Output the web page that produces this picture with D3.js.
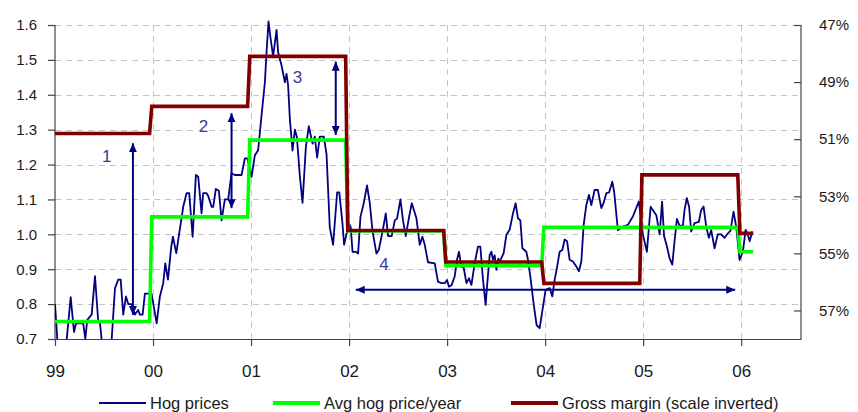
<!DOCTYPE html>
<html>
<head>
<meta charset="utf-8">
<script src="https://cdn.jsdelivr.net/npm/d3@7"></script>
<style>
  body { margin: 0; background: #fff; }
  svg text { font-family: "Liberation Sans Narrow", "Arial Narrow", "Liberation Sans", Arial, sans-serif; }
  .num text { font-family: "Liberation Sans", Arial, sans-serif; }
</style>
</head>
<body>
<svg id="chart" width="858" height="412"></svg>
<script>
// ---- data ----
const years = [1999, 2000, 2001, 2002, 2003, 2004, 2005, 2006];
const yearLabels = ["99", "00", "01", "02", "03", "04", "05", "06"];
const avgHogPrice = [0.75, 1.05, 1.27, 1.01, 0.91, 1.02, 1.02, 0.95];
const grossMargin = [50.8, 49.85, 48.1, 54.2, 55.3, 56.05, 52.25, 54.3]; // %, plotted on inverted right axis
const seriesEnd = 2006.123;
const leftTicks = [0.7, 0.8, 0.9, 1.0, 1.1, 1.2, 1.3, 1.4, 1.5, 1.6];
const rightTicks = [47, 49, 51, 53, 55, 57];
const seriesNames = ["Hog prices", "Avg hog price/year", "Gross margin (scale inverted)"];

const hogDates = [
  1999.000, 1999.040, 1999.100, 1999.160, 1999.194, 1999.214, 1999.255, 1999.288, 1999.309, 1999.329,
  1999.374, 1999.408, 1999.441, 1999.459, 1999.500, 1999.560, 1999.612, 1999.645, 1999.670, 1999.696,
  1999.724, 1999.747, 1999.782, 1999.815, 1999.849, 1999.866, 1999.894, 1999.917, 1999.958, 1999.985,
  2000.037, 2000.070, 2000.104, 2000.125, 2000.152, 2000.186, 2000.203, 2000.237, 2000.308, 2000.342,
  2000.369, 2000.404, 2000.437, 2000.461, 2000.495, 2000.512, 2000.546, 2000.563, 2000.597, 2000.614,
  2000.641, 2000.672, 2000.699, 2000.733, 2000.767, 2000.801, 2000.835, 2000.903, 2000.937, 2000.962,
  2001.005, 2001.039, 2001.072, 2001.107, 2001.141, 2001.158, 2001.178, 2001.199, 2001.225, 2001.260,
  2001.276, 2001.311, 2001.345, 2001.362, 2001.378, 2001.396, 2001.423, 2001.447, 2001.467, 2001.497,
  2001.525, 2001.559, 2001.589, 2001.627, 2001.650, 2001.674, 2001.701, 2001.742, 2001.770, 2001.803,
  2001.837, 2001.878, 2001.900, 2001.933, 2001.949, 2001.973, 2002.000, 2002.017, 2002.035, 2002.068,
  2002.092, 2002.116, 2002.150, 2002.183, 2002.211, 2002.239, 2002.279, 2002.303, 2002.347, 2002.374,
  2002.398, 2002.435, 2002.466, 2002.489, 2002.524, 2002.550, 2002.578, 2002.612, 2002.640, 2002.687,
  2002.721, 2002.748, 2002.772, 2002.805, 2002.874, 2002.907, 2002.942, 2002.976, 2002.999, 2003.019,
  2003.047, 2003.077, 2003.101, 2003.121, 2003.146, 2003.169, 2003.197, 2003.223, 2003.248, 2003.281,
  2003.315, 2003.339, 2003.366, 2003.393, 2003.407, 2003.434, 2003.452, 2003.468, 2003.485, 2003.503,
  2003.521, 2003.536, 2003.577, 2003.604, 2003.638, 2003.672, 2003.699, 2003.723, 2003.747, 2003.768,
  2003.808, 2003.825, 2003.849, 2003.883, 2003.913, 2003.944, 2003.978, 2004.005, 2004.046, 2004.073,
  2004.097, 2004.114, 2004.148, 2004.175, 2004.199, 2004.224, 2004.250, 2004.283, 2004.318, 2004.345,
  2004.369, 2004.393, 2004.420, 2004.447, 2004.471, 2004.505, 2004.538, 2004.573, 2004.596, 2004.624,
  2004.652, 2004.685, 2004.704, 2004.742, 2004.793, 2004.844, 2004.895, 2004.936, 2004.956, 2004.997,
  2005.038, 2005.076, 2005.134, 2005.168, 2005.193, 2005.213, 2005.242, 2005.269, 2005.297, 2005.320,
  2005.344, 2005.371, 2005.405, 2005.422, 2005.445, 2005.468, 2005.490, 2005.524, 2005.568, 2005.592,
  2005.616, 2005.643, 2005.670, 2005.694, 2005.728, 2005.761, 2005.796, 2005.830, 2005.864, 2005.890,
  2005.922, 2005.949, 2005.983, 2006.017, 2006.045, 2006.068, 2006.086, 2006.113
];
const hogPrices = [
  0.80, 0.63, 0.64, 0.82, 0.72, 0.745, 0.745, 0.745, 0.70, 0.755,
  0.77, 0.88, 0.75, 0.745, 0.63, 0.62, 0.846, 0.87, 0.87, 0.77,
  0.822, 0.80, 0.80, 0.77, 0.783, 0.77, 0.77, 0.83, 0.83, 0.83,
  0.745, 0.822, 0.86, 0.917, 0.87, 0.965, 0.993, 0.946, 1.079, 1.118,
  1.118, 0.993, 1.17, 1.165, 1.06, 1.118, 1.118, 1.11, 1.079, 1.079,
  1.13, 1.125, 1.04, 1.10, 1.10, 1.175, 1.17, 1.17, 1.218, 1.218,
  1.165, 1.227, 1.241, 1.341, 1.436, 1.522, 1.61, 1.562, 1.51, 1.586,
  1.522, 1.484, 1.436, 1.46, 1.427, 1.33, 1.24, 1.30, 1.28, 1.17,
  1.09, 1.25, 1.31, 1.26, 1.28, 1.22, 1.28, 1.28, 1.23, 1.02,
  0.97, 1.12, 1.12, 1.03, 0.97, 1.00, 1.03, 1.02, 0.95, 0.95,
  0.945, 1.05, 1.09, 1.14, 1.09, 1.01, 0.945, 0.955, 1.017, 1.06,
  0.995, 0.995, 1.04, 1.045, 1.10, 1.04, 0.995, 1.05, 1.089, 1.046,
  0.97, 0.993, 0.97, 0.92, 0.917, 0.864, 0.86, 0.86, 0.869, 0.85,
  0.855, 0.879, 0.927, 0.95, 0.907, 0.905, 0.86, 0.874, 0.855, 0.917,
  0.965, 0.965, 0.87, 0.798, 0.85, 0.94, 0.95, 0.927, 0.94, 0.898,
  0.93, 0.922, 0.946, 0.998, 1.013, 1.06, 1.089, 1.046, 1.04, 0.96,
  0.95, 0.927, 0.879, 0.80, 0.74, 0.731, 0.793, 0.841, 0.846, 0.822,
  0.87, 0.894, 0.95, 0.955, 0.985, 0.98, 0.927, 0.922, 0.908, 0.894,
  0.922, 1.027, 1.084, 1.113, 1.084, 1.127, 1.127, 1.075, 1.09, 1.118,
  1.12, 1.151, 1.122, 1.012, 1.022, 1.027, 1.051, 1.08, 1.094, 1.0,
  0.95, 1.079, 1.055, 1.0, 1.094, 0.995, 0.966, 0.932, 0.913, 0.98,
  1.044, 1.025, 1.025, 1.07, 1.104, 1.08, 1.008, 1.032, 1.036, 1.07,
  1.08, 1.022, 0.99, 1.012, 0.96, 1.0, 1.0, 0.99, 1.003, 1.01,
  1.065, 1.022, 0.927, 0.95, 1.013, 0.998, 0.98, 1.008
];

// numbered annotations: vertical spans (date, from value, to value) and one horizontal span
const spanArrows = [
  { n: "1", date: 1999.795, from: 0.769, to: 1.261, labelDate: 1999.527, labelValue: 1.223 },
  { n: "2", date: 2000.801, from: 1.075, to: 1.347, labelDate: 2000.515, labelValue: 1.309 },
  { n: "3", date: 2001.864, from: 1.285, to: 1.495, labelDate: 2001.474, labelValue: 1.450 }
];
const periodArrow = { n: "4", value: 0.841, from: 2002.068, to: 2005.939, labelDate: 2002.357, labelValue: 0.914 };

// ---- layout ----
const plot = { left: 55, right: 801, top: 25, bottom: 339 };
const stepLead = 0.013, stepRamp = 0.022;

const svg = d3.select("#chart");

const x = d3.scaleLinear().domain([1999, 2006.61]).range([plot.left, plot.right]);
const yL = d3.scaleLinear().domain([0.7, 1.6]).range([plot.bottom, plot.top]);
const yR = d3.scaleLinear().domain([47, 58]).range([plot.top, plot.bottom]);

// grid
const grid = svg.append("g").attr("stroke", "#c4c4c4").attr("stroke-width", 1).attr("stroke-dasharray", "6,5");
grid.selectAll("line.h").data(leftTicks.filter(d => d > 0.7)).join("line")
  .attr("x1", plot.left).attr("x2", plot.right)
  .attr("y1", d => Math.round(yL(d)) + 0.5).attr("y2", d => Math.round(yL(d)) + 0.5);
grid.selectAll("line.v").data(years.slice(1)).join("line")
  .attr("y1", plot.top).attr("y2", plot.bottom)
  .attr("x1", d => Math.round(x(d)) + 0.5).attr("x2", d => Math.round(x(d)) + 0.5);

// axes
const axisColor = "#444";
const gL = svg.append("g").attr("class", "num").attr("transform", `translate(${plot.left},0)`)
  .call(d3.axisLeft(yL).tickValues(leftTicks).tickFormat(d3.format(".1f")).tickSize(7).tickPadding(11));
const gR = svg.append("g").attr("class", "num").attr("transform", `translate(${plot.right},0)`)
  .call(d3.axisRight(yR).tickValues(rightTicks).tickFormat(d => d + "%").tickSizeInner(-7).tickSizeOuter(0).tickPadding(18));
const gB = svg.append("g").attr("transform", `translate(0,${plot.bottom})`)
  .call(d3.axisBottom(x).tickValues(years).tickFormat((d, i) => yearLabels[i]).tickSizeInner(7).tickSizeOuter(0).tickPadding(19));
gR.select(".domain").attr("d", `M0,${plot.top}V${plot.bottom}`);
gL.select(".domain").attr("d", `M0,${plot.top}V${plot.bottom}`);
[gL, gR, gB].forEach(g => {
  g.select(".domain").attr("stroke", axisColor).attr("stroke-width", 1.2);
  g.selectAll(".tick line").attr("stroke", axisColor).attr("stroke-width", 1.2);
  g.selectAll("text").attr("font-size", 15).attr("fill", "#1a1a1a");
});
gB.selectAll("text").attr("font-size", 17);

// clip series at the bottom of the value range
svg.append("clipPath").attr("id", "plotClip").append("rect")
  .attr("x", plot.left).attr("y", 0).attr("width", plot.right - plot.left).attr("height", plot.bottom);

const series = svg.append("g").attr("clip-path", "url(#plotClip)");

// weekly hog prices
const hog = hogDates.map((d, i) => [d, hogPrices[i]]);
series.append("path").datum(hog)
  .attr("fill", "none").attr("stroke", "#000080").attr("stroke-width", 1.8).attr("stroke-linejoin", "round")
  .attr("d", d3.line().x(d => x(d[0])).y(d => yL(d[1])));

// yearly step series
function stepData(values) {
  const pts = [];
  years.forEach((yr, i) => {
    const start = i === 0 ? years[0] : yr - stepLead;
    const end = i === years.length - 1 ? seriesEnd : years[i + 1] - stepLead - stepRamp;
    pts.push([start, values[i]], [end, values[i]]);
  });
  return pts;
}
series.append("path").datum(stepData(avgHogPrice))
  .attr("fill", "none").attr("stroke", "#00ff00").attr("stroke-width", 3.6).attr("stroke-linejoin", "miter")
  .attr("d", d3.line().x(d => x(d[0])).y(d => yL(d[1])));
series.append("path").datum(stepData(grossMargin))
  .attr("fill", "none").attr("stroke", "#800000").attr("stroke-width", 3.6).attr("stroke-linejoin", "miter")
  .attr("d", d3.line().x(d => x(d[0])).y(d => yR(d[1])));

// annotation arrows
const defs = svg.append("defs");
defs.append("marker").attr("id", "head").attr("viewBox", "0 0 10 10")
  .attr("refX", 10).attr("refY", 5).attr("markerWidth", 9).attr("markerHeight", 9)
  .attr("markerUnits", "userSpaceOnUse").attr("orient", "auto-start-reverse")
  .append("path").attr("d", "M0,0.5L10,5L0,9.5Z").attr("fill", "#000080");

const ann = svg.append("g");
const labelColor = "#3a3a9c";
spanArrows.forEach(a => {
  ann.append("line")
    .attr("x1", x(a.date)).attr("x2", x(a.date))
    .attr("y1", yL(a.from)).attr("y2", yL(a.to))
    .attr("stroke", "#000080").attr("stroke-width", 2)
    .attr("marker-start", "url(#head)").attr("marker-end", "url(#head)");
  ann.append("text").attr("x", x(a.labelDate)).attr("y", yL(a.labelValue))
    .attr("text-anchor", "middle").attr("dominant-baseline", "central")
    .attr("font-size", 17).style("font-family", '"Liberation Sans", Arial, sans-serif')
    .style("fill", labelColor).text(a.n);
});
ann.append("line")
  .attr("x1", x(periodArrow.from)).attr("x2", x(periodArrow.to))
  .attr("y1", yL(periodArrow.value)).attr("y2", yL(periodArrow.value))
  .attr("stroke", "#000080").attr("stroke-width", 2)
  .attr("marker-start", "url(#head)").attr("marker-end", "url(#head)");
ann.append("text").attr("x", x(periodArrow.labelDate)).attr("y", yL(periodArrow.labelValue))
  .attr("text-anchor", "middle").attr("dominant-baseline", "central")
  .attr("font-size", 17).style("font-family", '"Liberation Sans", Arial, sans-serif')
  .style("fill", labelColor).text(periodArrow.n);

// legend
const legendItems = [
  { name: seriesNames[0], color: "#000080", width: 2, x: 99 },
  { name: seriesNames[1], color: "#00ff00", width: 4, x: 273 },
  { name: seriesNames[2], color: "#800000", width: 4, x: 511 }
];
const legend = svg.append("g").attr("transform", "translate(0,403)");
legendItems.forEach(it => {
  legend.append("line").attr("x1", it.x).attr("x2", it.x + 47).attr("y1", 0).attr("y2", 0)
    .attr("stroke", it.color).attr("stroke-width", it.width);
  legend.append("text").attr("x", it.x + 51).attr("y", 0).attr("dominant-baseline", "central")
    .attr("font-size", 16.5).style("fill", "#1a1a1a").text(it.name);
});
</script>
</body>
</html>
